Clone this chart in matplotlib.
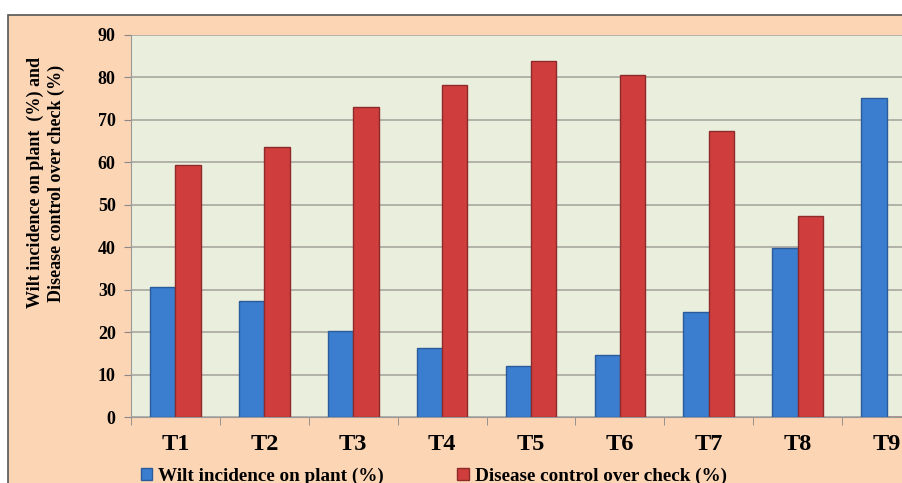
import numpy as np
import matplotlib.pyplot as plt
from matplotlib.patches import Rectangle

treatments = ["T1", "T2", "T3", "T4", "T5", "T6", "T7", "T8", "T9"]
wilt = [30.7, 27.3, 20.4, 16.3, 12.1, 14.6, 24.7, 39.9, 75.2]
control = [59.4, 63.6, 73.0, 78.3, 83.9, 80.6, 67.3, 47.4, 0]

plt.rcParams['font.family'] = ['Liberation Serif', 'DejaVu Serif']
plt.rcParams['font.weight'] = 'bold'

fig = plt.figure(figsize=(9.03, 4.83), dpi=100, facecolor='white')

# peach chart area with dark border (runs off the right/bottom edge)
fig.patches.append(Rectangle((8 / 903, -0.1), 1.2, 1 - 15 / 483 + 0.1,
                             transform=fig.transFigure, facecolor='#fcd5b5',
                             edgecolor='#555555', lw=1.2, zorder=-5))

ax = fig.add_axes([131 / 903, 65.7 / 483, 800 / 903, 382.3 / 483])
ax.set_zorder(2)
ax.set_facecolor('#eaeedc')

x = np.arange(len(treatments))
w = 0.285
b1 = ax.bar(x - w / 2, wilt, w, color='#3b7dcf', edgecolor='#2a5b9a', lw=1.0,
            label='Wilt incidence on plant (%)', zorder=3)
b2 = ax.bar(x + w / 2, control, w, color='#cf3d3d', edgecolor='#8e2a2a', lw=1.0,
            label='Disease control over check (%)', zorder=3)

ax.set_xlim(-0.5, len(treatments) - 0.5)
ax.set_ylim(0, 90)
ax.set_yticks(range(0, 91, 10))
ax.yaxis.grid(True, color='#a8a8a0', lw=1.2, zorder=1)
ax.tick_params(axis='y', labelsize=13, length=5, color='#888888', pad=6)

ax.set_xticks(x)
ax.set_xticklabels(treatments, fontsize=17.5, fontweight='bold')
ax.set_xticks(np.arange(-0.5, len(treatments), 1), minor=True)
ax.tick_params(axis='x', which='major', length=0, pad=12)
ax.tick_params(axis='x', which='minor', length=6, color='#888888')

for s in ['top', 'right']:
    ax.spines[s].set_visible(False)
for s in ['left', 'bottom']:
    ax.spines[s].set_color('#999999')

fig.text(46 / 903, 1 - 183 / 483,
         "Wilt incidence on plant  (%) and\nDisease control over check (%)",
         rotation=90, ha='center', va='center', fontsize=13,
         fontweight='bold', linespacing=1.25)

fig.legend(handles=[b1, b2], loc='upper left', ncol=2,
           bbox_to_anchor=(131 / 903, 1 - 458 / 483), frameon=False,
           fontsize=13.8, handlelength=0.6, handleheight=0.6,
           handletextpad=0.3, columnspacing=3.85, borderpad=0)

fig.savefig('out.png', dpi=100, facecolor='white')
